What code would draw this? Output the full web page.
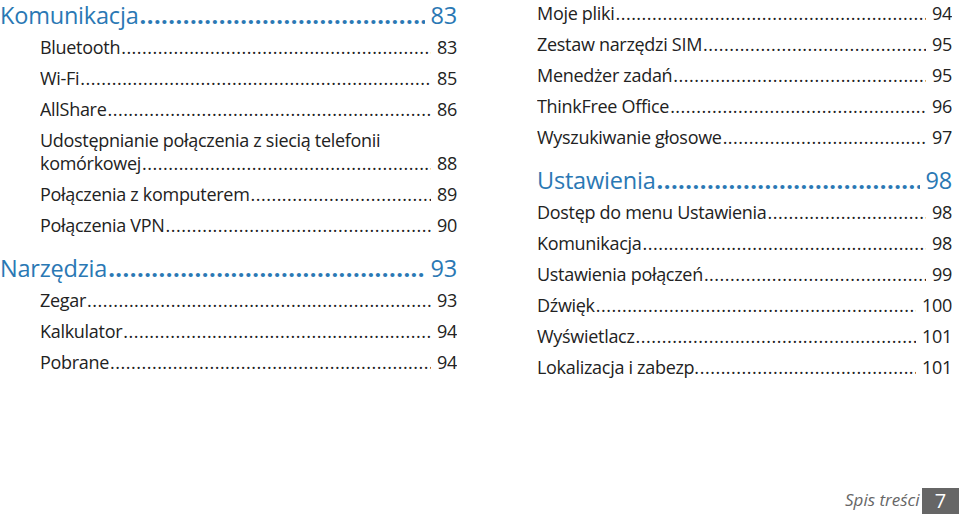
<!DOCTYPE html>
<html><head><meta charset="utf-8">
<script src="https://cdn.jsdelivr.net/npm/chart.js@4"></script>
<style>
body{margin:0;width:959px;height:514px;background:#fff;position:relative;overflow:hidden;font-family:"Open Sans","Noto Sans",sans-serif;color:#222}
.col{position:absolute;top:0}
.row{display:flex;align-items:baseline;white-space:nowrap;overflow:hidden;font-size:18px;letter-spacing:-0.3px;line-height:26px}
.row .t{flex:none}
.row .d{flex:1;overflow:hidden;margin:0 6px 0 1px}
.row .d::after{content:"........................................................................................................................................................................................................";letter-spacing:0.5px}
.row .p{flex:none}
.h{font-size:23.5px;color:#2a78b4;letter-spacing:-0.2px;line-height:30px}
.h .d{font-weight:bold}
#foot{position:absolute;left:845px;top:489px;font-style:italic;color:#666;font-size:17px;line-height:22px}
#pg{position:absolute;left:922px;top:488px;width:37px;height:26px;background:#666;color:#fff;font-size:20px;text-align:center;line-height:26px}
</style></head><body>
<div class="col" id="L" style="left:0;width:457px"></div>
<div class="col" id="R" style="left:537px;width:415px"></div>
<div id="foot">Spis treści</div><div id="pg">7</div>
<script>
const leftTitles=["Komunikacja","Bluetooth","Wi-Fi","AllShare","Udostępnianie połączenia z siecią telefonii komórkowej","Połączenia z komputerem","Połączenia VPN","Narzędzia","Zegar","Kalkulator","Pobrane"];
const leftPages=[83,83,85,86,88,89,90,93,93,94,94];
const leftHeads=[true,false,false,false,false,false,false,true,false,false,false];
const rightTitles=["Moje pliki","Zestaw narzędzi SIM","Menedżer zadań","ThinkFree Office","Wyszukiwanie głosowe","Ustawienia","Dostęp do menu Ustawienia","Komunikacja","Ustawienia połączeń","Dźwięk","Wyświetlacz","Lokalizacja i zabezp."];
const rightPages=[94,95,95,96,97,98,98,98,99,100,101,101];
const rightHeads=[false,false,false,false,false,true,false,false,false,false,false,false];
function build(el,titles,pages,heads,indent,startY){
  let y=startY;
  titles.forEach((t,i)=>{
    const r=document.createElement('div');
    r.className='row'+(heads[i]?' h':'');
    r.style.position='absolute';r.style.left=(heads[i]?0:indent)+'px';r.style.right='0';
    if(heads[i]&&i>0)y+=10;
    r.style.top=y+'px';
    if(t.length>45){
      const sp=t.lastIndexOf(' ');
      const a=document.createElement('div');a.textContent=t.slice(0,sp);
      a.style.cssText='position:absolute;top:-23px;left:0';
      r.style.top=(y+23)+'px';r.style.overflow='visible';
      r.appendChild(a);t=t.slice(sp+1);y+=23;
    }
    r.insertAdjacentHTML('beforeend','<span class="t"></span><span class="d"></span><span class="p"></span>');
    r.children[r.children.length-3].textContent=t;
    r.lastChild.textContent=pages[i];
    el.appendChild(r);
    y+=heads[i]?34:31;
  });
}
build(document.getElementById('L'),leftTitles,leftPages,leftHeads,40,0);
build(document.getElementById('R'),rightTitles,rightPages,rightHeads,0,0);
</script></body></html>
